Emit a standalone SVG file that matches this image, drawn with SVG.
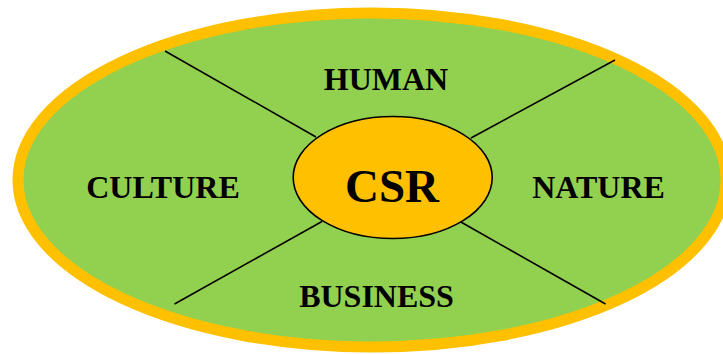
<svg xmlns="http://www.w3.org/2000/svg" width="723" height="354" viewBox="0 0 723 354">
<style>
.lbl{font-family:"Liberation Serif","Times New Roman",serif;font-weight:bold;font-size:32px;fill:#000;text-anchor:middle}
.ln{stroke:#000;stroke-width:1.6;fill:none}
</style>
<rect width="723" height="354" fill="#fff"/>
<g id="outer">
<ellipse cx="372" cy="180" rx="354" ry="167" fill="#92D050" stroke="#FFC000" stroke-width="11"/>
</g>
<g id="connectors">
<line class="ln" x1="165" y1="51" x2="316" y2="137"/>
<line class="ln" x1="615" y1="60" x2="471" y2="138"/>
<line class="ln" x1="174.5" y1="304" x2="322" y2="221.5"/>
<line class="ln" x1="605.5" y1="304" x2="460" y2="221.5"/>
</g>
<g id="csr">
<ellipse cx="392.7" cy="177.5" rx="99.5" ry="61" fill="#FFC000" stroke="#000" stroke-width="1.6"/>
<text class="lbl" x="392" y="201.5" style="font-size:47px">CSR</text>
</g>
<g id="human"><text class="lbl" x="386" y="90">HUMAN</text></g>
<g id="culture"><text class="lbl" x="163" y="198">CULTURE</text></g>
<g id="nature"><text class="lbl" x="598.5" y="198">NATURE</text></g>
<g id="business"><text class="lbl" x="376.5" y="307">BUSINESS</text></g>
</svg>
